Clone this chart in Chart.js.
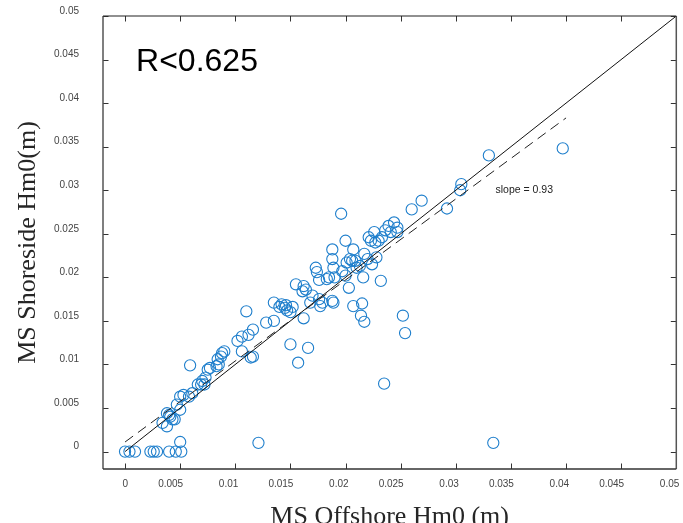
<!DOCTYPE html>
<html><head><meta charset="utf-8">
<script src="https://cdn.jsdelivr.net/npm/chart.js@4.4.0/dist/chart.umd.min.js"></script>
<style>html,body{margin:0;padding:0;background:#fff;overflow:hidden}#wrap{width:683px;height:523px}</style>
</head><body><div id="wrap"><canvas id="c" width="683" height="523"></canvas></div>
<script>
// MS Offshore Hm0 (m)
const offshore = [0,0.0004,0.0009,0.0023,0.0026,0.0029,0.0040,0.0046,0.0051,0.0050,0.0121,0.0334,
0.0034,0.0038,0.0038,0.0040,0.0043,0.0045,0.0041,0.0047,0.0050,0.0050,0.0053,0.0058,0.0061,0.0059,
0.0066,0.0069,0.0070,0.0072,0.0073,0.0075,0.0077,0.0083,0.0084,0.0085,0.0087,0.0088,0.0090,0.0102,
0.0106,0.0106,0.0114,0.0116,0.0112,0.0116,0.0110,0.0128,0.0135,0.0135,0.0142,0.0145,0.0147,0.0150,
0.0152,0.0150,0.0166,0.0157,0.0155,0.0162,0.0161,0.0164,0.0162,0.0168,0.0170,0.0174,0.0176,0.0173,
0.0177,0.0176,0.0179,0.0183,0.0185,0.0188,0.0188,0.0188,0.0189,0.0190,0.0189,0.0196,0.0197,0.0200,
0.0200,0.0201,0.0203,0.0204,0.0206,0.0207,0.0207,0.0209,0.0210,0.0213,0.0215,0.0214,0.0216,0.0217,
0.0217,0.0220,0.0221,0.0223,0.0224,0.0226,0.0227,0.0228,0.0230,0.0232,0.0233,0.0235,0.0236,0.0239,
0.0241,0.0244,0.0247,0.0247,0.0252,0.0254,0.0260,0.0269,0.0292,0.0304,0.0305,0.0330,0.0397,0.0140,0.0146];
// MS Shoreside Hm0 (m)
const shoreside = [0,0,0,0,0,0,0,0,0,0.0011,0.0010,0.0010,
0.0033,0.0029,0.0044,0.0042,0.0037,0.0037,0.0040,0.0054,0.0048,0.0063,0.0065,0.0063,0.0067,0.0099,
0.0077,0.0077,0.0081,0.0077,0.0085,0.0094,0.0096,0.0098,0.0106,0.0100,0.0109,0.0113,0.0115,0.0127,
0.0132,0.0115,0.0108,0.0109,0.0134,0.0140,0.0161,0.0148,0.0150,0.0171,0.0169,0.0165,0.0162,0.0160,
0.0166,0.0123,0.0119,0.0102,0.0192,0.0190,0.0184,0.0186,0.0153,0.0171,0.0179,0.0206,0.0197,0.0211,
0.0167,0.0175,0.0171,0.0198,0.0200,0.0173,0.0232,0.0221,0.0211,0.0200,0.0171,0.0273,0.0207,0.0242,
0.0202,0.0217,0.0188,0.0221,0.0219,0.0232,0.0167,0.0219,0.0211,0.0213,0.0170,0.0156,0.0200,0.0149,
0.0227,0.0221,0.0246,0.0242,0.0215,0.0252,0.0240,0.0223,0.0242,0.0196,0.0246,0.0078,0.0254,0.0259,
0.0252,0.0263,0.0257,0.0252,0.0156,0.0136,0.0278,0.0288,0.0279,0.0300,0.0307,0.0340,0.0348,0.0166,0.0168];
const lineX = [0, 0.05];          // 1:1 line
const lineY = [0, 0.05];
const fitX = [0, 0.04];           // fitted line, slope = 0.93
const fitY = [0.0011, 0.0383];
const tickValues = [0,0.005,0.01,0.015,0.02,0.025,0.03,0.035,0.04,0.045,0.05];
const tickLabels = ['0','0.005','0.01','0.015','0.02','0.025','0.03','0.035','0.04','0.045','0.05'];
const rLabel = 'R<0.625';
const slopeLabel = 'slope = 0.93';

const toPts = (xs, ys) => xs.map((x, i) => ({x, y: ys[i]}));
const axisMin = -0.002, axisMax = 0.05;
const sans = '"Liberation Sans", Arial, Helvetica, sans-serif';
const serif = '"Liberation Serif", "Times New Roman", serif';

const framePlugin = {
  id: 'frame',
  afterDraw(chart) {
    const {ctx, chartArea: a, scales: {x, y}} = chart;
    ctx.save();
    const L = 5.5;
    ctx.strokeStyle = '#333';
    ctx.lineWidth = 1;
    tickValues.forEach(v => {
      const px = Math.round(x.getPixelForValue(v)) + 0.5;
      ctx.beginPath(); ctx.moveTo(px, a.bottom); ctx.lineTo(px, a.bottom - L); ctx.stroke();
      ctx.beginPath(); ctx.moveTo(px, a.top); ctx.lineTo(px, a.top + L); ctx.stroke();
      const py = Math.round(y.getPixelForValue(v)) + 0.5;
      ctx.beginPath(); ctx.moveTo(a.left, py); ctx.lineTo(a.left + L, py); ctx.stroke();
      ctx.beginPath(); ctx.moveTo(a.right, py); ctx.lineTo(a.right - L, py); ctx.stroke();
    });
    // frame
    ctx.lineWidth = 1.5;
    ctx.strokeStyle = '#555';
    ctx.beginPath(); ctx.moveTo(a.left, a.top); ctx.lineTo(a.left, a.bottom); ctx.stroke();
    ctx.beginPath(); ctx.moveTo(a.right, a.top); ctx.lineTo(a.right, a.bottom); ctx.stroke();
    ctx.strokeStyle = '#333';
    ctx.beginPath(); ctx.moveTo(a.left, a.bottom); ctx.lineTo(a.right, a.bottom); ctx.stroke();
    ctx.lineWidth = 1.2;
    ctx.strokeStyle = '#222';
    ctx.beginPath(); ctx.moveTo(a.left, a.top); ctx.lineTo(a.right, a.top); ctx.stroke();
    // annotations
    ctx.fillStyle = '#000';
    ctx.font = '32px ' + sans;
    ctx.textBaseline = 'alphabetic';
    ctx.textAlign = 'left';
    ctx.fillText(rLabel, x.getPixelForValue(0.001), y.getPixelForValue(0.0437));
    ctx.fillStyle = '#222';
    ctx.font = '10.5px ' + sans;
    ctx.textBaseline = 'middle';
    ctx.fillText(slopeLabel, x.getPixelForValue(0.0336), y.getPixelForValue(0.0300));
    ctx.restore();
  }
};

new Chart(document.getElementById('c'), {
  type: 'scatter',
  data: {
    datasets: [
      {data: toPts(lineX, lineY), showLine: true, borderColor: '#111', borderWidth: 1, pointRadius: 0, order: 1},
      {data: toPts(fitX, fitY), showLine: true, borderColor: '#222', borderWidth: 1, borderDash: [10, 6], pointRadius: 0, order: 1},
      {data: toPts(offshore, shoreside), backgroundColor: 'rgba(0,0,0,0)', borderColor: '#1f7fcc', borderWidth: 1.1, pointRadius: 5.6, pointHoverRadius: 5.6, order: 2}
    ]
  },
  options: {
    responsive: false,
    animation: false,
    devicePixelRatio: 1,
    layout: {padding: {top: 16, right: 4, left: 0, bottom: 0}},
    plugins: {legend: {display: false}, tooltip: {enabled: false}},
    scales: {
      x: {
        type: 'linear', min: axisMin, max: axisMax,
        grid: {display: false, drawTicks: false}, border: {display: false},
        afterBuildTicks: s => { s.ticks = tickValues.map(v => ({value: v})); },
        ticks: {callback: (v, i) => tickLabels[i], font: {family: sans, size: 10}, color: '#444', padding: 9, align: 'end', labelOffset: 3, maxRotation: 0, autoSkip: false},
        title: {display: true, text: 'MS Offshore Hm0 (m)', font: {family: serif, size: 26, lineHeight: 1}, color: '#262626', padding: {top: 0, bottom: -7}},
        afterFit: s => { s.height = 54; s.paddingLeft = 0; s.paddingRight = 0; }
      },
      y: {
        type: 'linear', min: axisMin, max: axisMax,
        grid: {display: false, drawTicks: false}, border: {display: false},
        afterBuildTicks: s => { s.ticks = tickValues.map(v => ({value: v})); },
        ticks: {callback: (v, i) => tickLabels[i], font: {family: sans, size: 10}, color: '#444', padding: 24, labelOffset: -5, autoSkip: false},
        title: {display: true, text: 'MS Shoreside Hm0(m)', font: {family: serif, size: 26, lineHeight: 1}, color: '#262626', padding: {top: 15, bottom: 0}},
        afterFit: s => { s.width = 103; s.paddingTop = 0; s.paddingBottom = 0; }
      }
    }
  },
  plugins: [framePlugin]
});
</script></body></html>
